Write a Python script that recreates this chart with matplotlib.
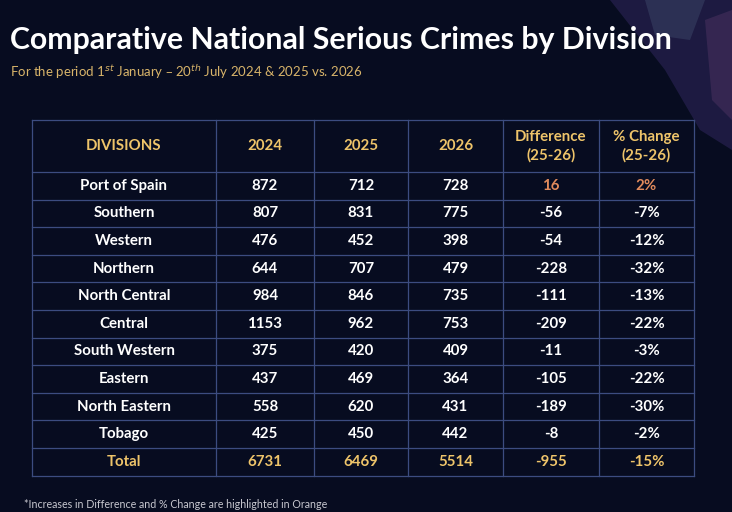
import matplotlib
matplotlib.use('Agg')
import matplotlib.pyplot as plt
from matplotlib.patches import Polygon

plt.rcParams['font.family'] = ['Lato', 'DejaVu Sans']

divisions = ['Port of Spain', 'Southern', 'Western', 'Northern', 'North Central',
             'Central', 'South Western', 'Eastern', 'North Eastern', 'Tobago']
y2024 = [872, 807, 476, 644, 984, 1153, 375, 437, 558, 425]
y2025 = [712, 831, 452, 707, 846, 962, 420, 469, 620, 450]
y2026 = [728, 775, 398, 479, 735, 753, 409, 364, 431, 442]
diff = [16, -56, -54, -228, -111, -209, -11, -105, -189, -8]
pct = [2, -7, -12, -32, -13, -22, -3, -22, -30, -2]
totals = [6731, 6469, 5514, -955, -15]
headers = ['DIVISIONS', '2024', '2025', '2026', 'Difference\n(25-26)', '% Change\n(25-26)']

bg = '#070c20'
gold = '#eec46a'
orange = '#e08a5c'
line_c = '#3c4c80'

fig = plt.figure(figsize=(7.32, 5.12), dpi=100, facecolor=bg)
ax = fig.add_axes([0, 0, 1, 1])
ax.set_xlim(0, 732)
ax.set_ylim(512, 0)
ax.axis('off')
ax.set_facecolor(bg)

# faint picture collage top right
ax.add_patch(Polygon([[610, 0], [732, 0], [732, 150], [700, 130], [665, 70]],
                     closed=True, color='#2c2458', alpha=0.6, lw=0))
ax.add_patch(Polygon([[645, 0], [705, 0], [690, 40], [655, 35]],
                     closed=True, color='#4a5a7a', alpha=0.35, lw=0))
ax.add_patch(Polygon([[705, 20], [732, 10], [732, 120], [712, 100]],
                     closed=True, color='#5a3a6a', alpha=0.4, lw=0))

ax.text(10, 40, 'Comparative National Serious Crimes by Division', color='white',
        fontsize=21.8, fontweight='bold', va='center', ha='left')
ax.text(10, 72, 'For the period 1$^{st}$ January \u2013 20$^{th}$ July 2024 & 2025 vs. 2026',
        color='#d8b46a', fontsize=9.5, va='center', ha='left')

col_x = [32, 216, 314, 408, 503, 599, 694]
top, head_bot, row_h = 120, 172, 27.6
n_rows = len(divisions) + 1
bottom = head_bot + n_rows * row_h

for x in col_x:
    ax.plot([x, x], [top, bottom], color=line_c, lw=0.9)
ax.plot([col_x[0], col_x[-1]], [top, top], color=line_c, lw=0.9)
for i in range(n_rows + 1):
    y = head_bot + i * row_h
    ax.plot([col_x[0], col_x[-1]], [y, y], color=line_c, lw=0.9)

centers = [(col_x[i] + col_x[i + 1]) / 2 for i in range(6)]
for c, h in zip(centers, headers):
    ax.text(c, (top + head_bot) / 2, h, color=gold, fontsize=10.8, fontweight='bold',
            ha='center', va='center', linespacing=1.35)

for r, name in enumerate(divisions):
    y = head_bot + (r + 0.5) * row_h
    vals = [name, str(y2024[r]), str(y2025[r]), str(y2026[r]), str(diff[r]), f'{pct[r]}%']
    for j, v in enumerate(vals):
        col = 'white'
        if j >= 4 and diff[r] > 0:
            col = orange
        ax.text(centers[j], y, v, color=col, fontsize=10.8, fontweight='bold',
                ha='center', va='center')

y = head_bot + (n_rows - 0.5) * row_h
tot_vals = ['Total'] + [str(t) for t in totals[:4]] + [f'{totals[4]}%']
for j, v in enumerate(tot_vals):
    ax.text(centers[j], y, v, color=gold, fontsize=10.8, fontweight='bold',
            ha='center', va='center')

ax.text(24, 504, '*Increases in Difference and % Change are highlighted in Orange',
        color='#c8c8d0', fontsize=7.7, ha='left', va='center')

fig.savefig('out.png', dpi=100, facecolor=bg)
